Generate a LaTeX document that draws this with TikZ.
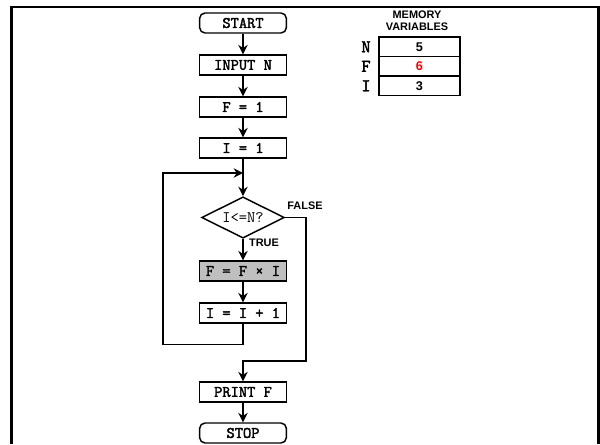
\documentclass[tikz,border=0pt]{standalone}
\usepackage{fontspec}
\setmainfont{Liberation Sans}
\setmonofont[AutoFakeBold=2.2]{Latin Modern Mono}
\usetikzlibrary{shapes.geometric,arrows.meta}
\begin{document}
\begin{tikzpicture}[x=0.75pt, y=-0.75pt,
  box/.style={draw, line width=1.1pt, minimum width=65pt, minimum height=15pt, inner sep=0pt,
    font=\ttfamily\bfseries\fontsize{12}{12}\selectfont},
  term/.style={box, rounded corners=4pt},
  decision/.style={draw, line width=1.1pt, diamond, aspect=2, inner sep=0pt,
    minimum width=62pt, minimum height=31pt, font=\ttfamily\fontsize{12}{12}\selectfont},
  flow/.style={line width=1.1pt, -{Stealth[length=7pt, width=7pt]}},
  lbl/.style={font=\bfseries\fontsize{8.2}{9}\selectfont, inner sep=0pt},
  memcell/.style={draw, line width=1.1pt, minimum width=60.75pt, minimum height=14.6pt, inner sep=0pt,
    font=\bfseries\fontsize{9.5}{10}\selectfont},
  memname/.style={font=\ttfamily\bfseries\fontsize{13.5}{14}\selectfont, inner sep=0pt}]
  \useasboundingbox (0,0) rectangle (600,444);
  % Frame, open at the bottom
  \draw[line width=1.9pt] (11.5,444) -- (11.5,7) -- (598.5,7) -- (598.5,444);
  % Flowchart steps
  \node[term] (start) at (243,23) {START};
  \node[box] (input) at (243,65) {INPUT N};
  \node[box] (setf) at (243,107) {F = 1};
  \node[box] (seti) at (243,148) {I = 1};
  \node[decision] (test) at (243,217.5) {I<=N?};
  \node[box, fill=black!25] (mult) at (243,271) {F = F × I};
  \node[box] (inc) at (243,313) {I = I + 1};
  \node[box] (print) at (243,392) {PRINT F};
  \node[term] (stop) at (243,433) {STOP};
  % Junctions of the loop and the exit
  \coordinate (join) at (243,173);
  \coordinate (back) at (163,173);
  \coordinate (merge) at (243,361);
  % Straight connectors
  \draw[flow] (start) -- (input);
  \draw[flow] (input) -- (setf);
  \draw[flow] (setf) -- (seti);
  \draw[flow] (seti) -- (test);
  \draw[flow] (test) -- (mult);
  \draw[flow] (mult) -- (inc);
  \draw[flow] (print) -- (stop);
  % Loop back to the test
  \draw[flow] (inc.south) -- ++(0,21) -| (back) -- (join);
  % Exit when the test fails
  \draw[flow] (test.east) -- ++(21,0) |- (merge) -- (print.north);
  % Branch labels
  \node[lbl] (lfalse) at (305,206) {FALSE};
  \node[lbl] (ltrue) at (264,243) {TRUE};
  % Memory table
  \node[lbl, align=center] (memhead) at (417,21) {MEMORY\\VARIABLES};
  \node[memcell] (valn) at (419.5,46.75) {5};
  \node[memcell] (valf) at (419.5,66.25) {\textcolor{red}{6}};
  \node[memcell] (vali) at (419.5,85.75) {3};
  \node[memname] (namen) at (366,46.75) {N};
  \node[memname] (namef) at (366,66.25) {F};
  \node[memname] (namei) at (366,85.75) {I};
\end{tikzpicture}
\end{document}
